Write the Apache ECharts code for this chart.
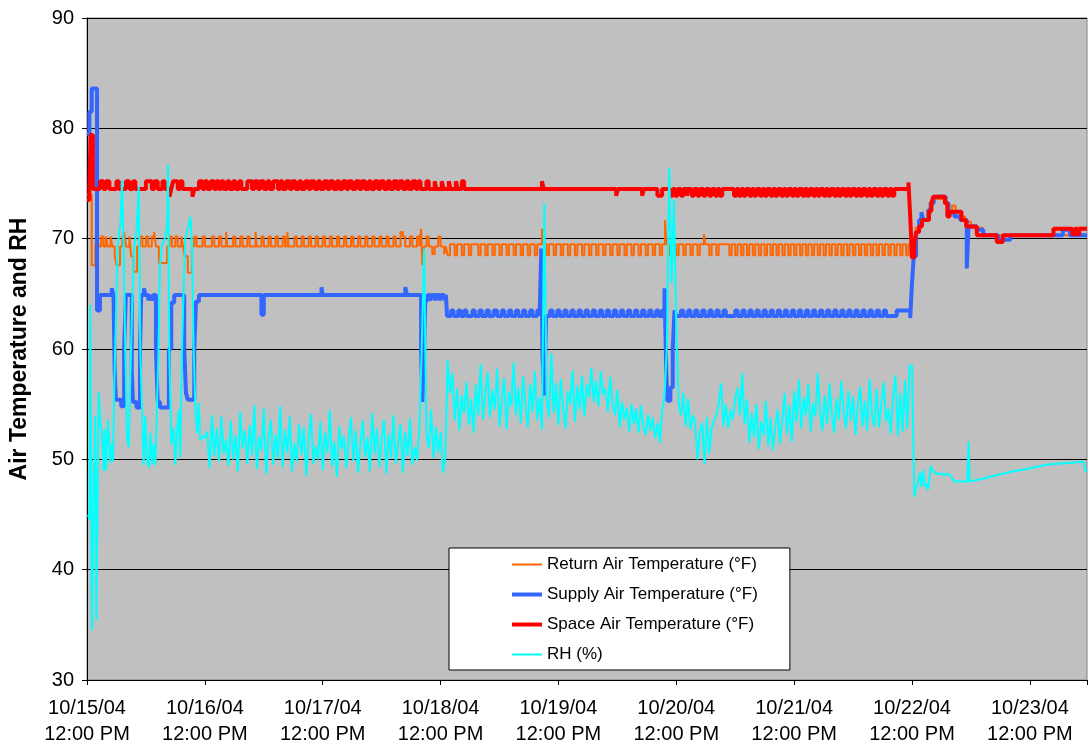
<!DOCTYPE html>
<html>
<head>
<meta charset="utf-8">
<script src="https://cdn.jsdelivr.net/npm/echarts@6/dist/echarts.min.js"></script>
<style>
html,body{margin:0;padding:0;background:#fff;}
#chart{width:1089px;height:753px;}
</style>
</head>
<body>
<div id="chart"></div>
<script>
// x values are days since 10/15/04 12:00 PM
const xTickLabels = ['10/15/04\n12:00 PM','10/16/04\n12:00 PM','10/17/04\n12:00 PM','10/18/04\n12:00 PM','10/19/04\n12:00 PM','10/20/04\n12:00 PM','10/21/04\n12:00 PM','10/22/04\n12:00 PM','10/23/04\n12:00 PM'];
const seriesNames = ['Return Air Temperature (°F)','Supply Air Temperature (°F)','Space Air Temperature (°F)','RH (%)'];

// Return air temperature: [day, °F] change points
const returnAir = [[0,74.0],[0.04,67.6],[0.07,69.3],[0.085,70.6],[0.1,69.3],[0.12,70.2],[0.14,69.3],[0.16,70.2],[0.175,69.3],[0.2,70.2],[0.215,69.3],[0.235,68.4],[0.25,67.6],[0.28,69.3],[0.3,70.2],[0.315,70.6],[0.33,69.3],[0.36,70.2],[0.375,68.4],[0.395,67.0],[0.425,69.3],[0.45,70.2],[0.47,69.3],[0.5,70.2],[0.52,69.3],[0.55,70.2],[0.57,70.6],[0.585,69.3],[0.61,67.8],[0.68,69.3],[0.7,70.2],[0.72,69.3],[0.75,70.2],[0.77,69.3],[0.8,70.2],[0.815,69.3],[0.83,68.4],[0.855,66.9],[0.89,69.3],[0.91,70.2],[0.93,69.3],
[0.98,70.2],[1.0,69.3],[1.06,70.2],[1.08,69.3],[1.12,70.2],[1.14,69.3],[1.18,70.6],[1.19,69.3],[1.24,70.2],[1.26,69.3],[1.3,70.2],[1.32,69.3],[1.36,70.2],[1.38,69.3],[1.43,70.6],[1.44,69.3],[1.48,70.2],[1.5,69.3],[1.54,70.2],[1.56,69.3],[1.6,70.2],[1.62,69.3],[1.66,70.2],[1.68,69.3],[1.7,70.6],[1.71,69.3],[1.76,70.2],[1.78,69.3],[1.82,70.2],[1.84,69.3],[1.88,70.2],[1.9,69.3],[1.94,70.2],[1.96,69.3],[2.0,70.2],[2.02,69.3],[2.06,70.2],[2.08,69.3],[2.12,70.2],[2.14,69.3],[2.18,70.2],[2.2,69.3],[2.24,70.2],[2.26,69.3],[2.3,70.2],[2.32,69.3],[2.36,70.2],[2.38,69.3],[2.42,70.2],[2.44,69.3],[2.48,70.2],[2.5,69.3],[2.54,70.2],[2.56,69.3],[2.6,70.2],[2.62,69.3],[2.66,70.6],[2.68,70.2],[2.7,69.3],[2.74,70.2],[2.76,69.3],[2.8,70.2],[2.82,69.3],[2.835,70.9],[2.845,67.6],[2.86,69.3],[2.88,70.2],[2.9,69.3],[2.93,68.6],[2.95,69.3],[2.98,70.2],[3.0,69.3],[3.03,68.6],[3.045,69.3],
[3.06,68.5],[3.08,69.5],[3.12,68.5],[3.14,69.5],[3.18,68.5],[3.2,69.5],[3.24,68.5],[3.26,69.5],[3.32,68.5],[3.34,69.5],[3.38,68.5],[3.4,69.5],[3.44,68.5],[3.46,69.5],[3.5,68.5],[3.52,69.5],[3.56,68.5],[3.58,69.5],[3.62,68.5],[3.64,69.5],[3.68,68.5],[3.7,69.5],[3.74,68.5],[3.76,69.5],[3.8,68.5],[3.82,69.5],[3.86,70.9],[3.87,69.5],[3.9,68.5],[3.92,69.5],[3.96,68.5],[3.98,69.5],[4.02,68.5],[4.04,69.5],[4.08,68.5],[4.1,69.5],[4.14,68.5],[4.16,69.5],[4.2,68.5],[4.22,69.5],[4.26,68.5],[4.28,69.5],[4.32,68.5],[4.34,69.5],[4.38,68.5],[4.4,69.5],[4.44,68.5],[4.46,69.5],[4.5,68.5],[4.52,69.5],[4.56,68.5],[4.58,69.5],[4.62,68.5],[4.64,69.5],[4.68,68.5],[4.7,69.5],[4.74,68.5],[4.76,69.5],[4.8,68.5],[4.82,69.5],[4.86,68.5],[4.88,69.5],[4.905,71.7],[4.915,69.5],[4.94,68.5],[4.96,69.5],[5.0,68.5],[5.02,69.5],[5.06,68.5],[5.08,69.5],[5.12,68.5],[5.14,69.5],[5.18,68.5],[5.2,69.5],[5.235,70.4],[5.245,69.5],[5.28,68.5],[5.3,69.5],[5.34,68.5],[5.36,69.5],[5.45,68.5],[5.47,69.5],[5.5,68.5],[5.52,69.5],[5.55,68.5],[5.57,69.5],[5.6,68.5],[5.62,69.5],[5.65,68.5],[5.67,69.5],[5.7,68.5],[5.72,69.5],[5.75,68.5],[5.77,69.5],[5.8,68.5],[5.82,69.5],[5.85,68.5],[5.87,69.5],[5.9,68.5],[5.92,69.5],[5.95,68.5],[5.97,69.5],[6.0,68.5],[6.02,69.5],[6.05,68.5],[6.07,69.5],[6.1,68.5],[6.12,69.5],[6.15,68.5],[6.17,69.5],[6.2,68.5],[6.22,69.5],[6.25,68.5],[6.27,69.5],[6.3,68.5],[6.32,69.5],[6.35,68.5],[6.37,69.5],[6.4,68.5],[6.42,69.5],[6.45,68.5],[6.47,69.5],[6.5,68.5],[6.52,69.5],[6.55,68.5],[6.57,69.5],[6.6,68.5],[6.62,69.5],[6.65,68.5],[6.67,69.5],[6.7,68.5],[6.72,69.5],[6.75,68.5],[6.77,69.5],[6.8,68.5],[6.82,69.5],[6.85,68.5],[6.87,69.5],[6.9,68.5],[6.92,69.5],[6.95,68.5],[6.97,69.5],
[6.99,68.3],[7.01,70.0],[7.03,71.0],[7.06,71.5],[7.085,71.7],[7.13,72.6],[7.15,73.3],[7.17,73.6],[7.27,73.2],[7.3,72.4],[7.34,73.0],[7.37,72.4],[7.41,72.0],[7.45,71.5],[7.5,71.0],[7.6,70.3],[8.4,71.0],[8.485,71.0]];

// Supply air temperature: [day, °F] change points
const supplyAir = [[0,79.5],[0.02,81.5],[0.04,83.6],[0.085,63.5],[0.11,64.9],[0.21,65.5],[0.225,64.9],[0.235,58.0],[0.245,55.4],[0.29,54.8],[0.315,60.0],[0.33,64.9],[0.38,58.0],[0.39,55.2],[0.42,54.7],[0.45,60.0],[0.46,64.9],[0.483,65.5],[0.495,64.9],[0.52,64.4],[0.535,64.9],[0.55,64.4],[0.565,64.9],[0.585,60.0],[0.6,55.2],[0.62,54.7],[0.695,60.0],[0.715,64.2],[0.74,64.9],[0.825,60.0],[0.84,56.0],[0.855,55.4],[0.91,60.0],[0.925,64.3],[0.95,64.9],[1.48,63.1],[1.5,64.9],[1.99,65.6],[2.0,64.9],[2.7,65.6],[2.715,64.9],[2.835,60.0],[2.845,55.2],[2.86,60.0],[2.87,64.4],[2.89,64.9],[2.91,64.4],[2.925,64.9],[2.95,64.4],[2.965,64.9],[2.99,64.4],[3.005,64.9],[3.03,64.4],[3.045,64.9],
[3.055,63.0],[3.09,63.5],[3.11,63.0],[3.15,63.5],[3.17,63.0],[3.2,63.5],[3.22,63.0],[3.27,63.5],[3.29,63.0],[3.33,63.5],[3.35,63.0],[3.39,63.5],[3.41,63.0],[3.45,63.5],[3.48,63.0],[3.52,63.5],[3.54,63.0],[3.58,63.5],[3.6,63.0],[3.64,63.5],[3.66,63.0],[3.7,63.5],[3.72,63.0],[3.76,63.5],[3.78,63.0],[3.82,63.5],[3.84,63.0],
[3.855,69.1],[3.865,59.3],[3.88,55.8],[3.895,63.0],
[3.93,63.5],[3.95,63.0],[3.99,63.5],[4.01,63.0],[4.05,63.5],[4.07,63.0],[4.11,63.5],[4.13,63.0],[4.17,63.5],[4.19,63.0],[4.23,63.5],[4.25,63.0],[4.29,63.5],[4.31,63.0],[4.35,63.5],[4.37,63.0],[4.41,63.5],[4.43,63.0],[4.47,63.5],[4.49,63.0],[4.53,63.5],[4.55,63.0],[4.59,63.5],[4.61,63.0],[4.65,63.5],[4.67,63.0],[4.71,63.5],[4.73,63.0],[4.77,63.5],[4.79,63.0],[4.83,63.5],[4.85,63.0],[4.88,63.5],
[4.9,65.5],[4.915,58.0],[4.925,55.3],[4.95,56.5],[4.97,60.0],[4.985,63.5],[5.0,63.0],
[5.04,63.5],[5.06,63.0],[5.1,63.5],[5.12,63.0],[5.16,63.5],[5.18,63.0],[5.22,63.5],[5.24,63.0],[5.28,63.5],[5.3,63.0],[5.34,63.5],[5.36,63.0],[5.4,63.5],[5.42,63.0],[5.5,63.5],[5.52,63.0],[5.56,63.5],[5.58,63.0],[5.62,63.5],[5.64,63.0],[5.68,63.5],[5.7,63.0],[5.74,63.5],[5.76,63.0],[5.8,63.5],[5.82,63.0],[5.86,63.5],[5.88,63.0],[5.92,63.5],[5.94,63.0],[5.98,63.5],[6.0,63.0],[6.04,63.5],[6.06,63.0],[6.1,63.5],[6.12,63.0],[6.16,63.5],[6.18,63.0],[6.22,63.5],[6.24,63.0],[6.28,63.5],[6.3,63.0],[6.34,63.5],[6.36,63.0],[6.4,63.5],[6.42,63.0],[6.46,63.5],[6.48,63.0],[6.52,63.5],[6.54,63.0],[6.58,63.5],[6.6,63.0],[6.64,63.5],[6.66,63.0],[6.7,63.5],[6.72,63.0],[6.76,63.5],[6.78,63.0],[6.87,63.5],[6.985,62.8],
[7.0,66.0],[7.015,68.4],[7.035,70.6],[7.06,71.7],[7.08,72.4],[7.095,71.7],[7.14,72.6],[7.16,73.2],[7.185,73.8],[7.285,73.2],[7.31,72.4],[7.36,72.0],[7.41,71.7],[7.465,67.3],[7.48,71.1],[7.55,70.8],[7.605,70.3],[7.73,69.9],[7.835,70.3],[8.28,70.8],[8.34,70.3],[8.485,70.3]];

// Space air temperature: [day, °F] change points
const spaceAir = [[0,73.5],[0.02,74.5],[0.03,79.4],[0.05,74.5],
[0.11,75.2],[0.14,74.5],[0.16,75.2],[0.19,74.5],[0.25,75.2],[0.27,74.5],[0.33,75.2],[0.36,74.5],[0.39,75.2],[0.41,74.5],[0.5,75.2],[0.55,74.5],[0.57,75.2],[0.6,74.5],[0.64,75.2],[0.66,74.5],[0.7,73.8],[0.715,74.5],[0.73,75.2],[0.77,74.5],[0.79,75.2],[0.81,74.5],[0.895,73.8],[0.91,74.5],[0.95,75.2],[0.98,74.5],[1.0,75.2],[1.02,74.5],[1.05,75.2],[1.08,74.5],[1.1,75.2],[1.12,74.5],[1.14,75.2],[1.16,74.5],[1.19,75.2],[1.21,74.5],[1.24,75.2],[1.26,74.5],[1.29,75.2],[1.31,74.5],[1.36,75.2],[1.4,74.5],
[1.42,75.2],[1.45,74.5],[1.47,75.2],[1.5,74.5],[1.53,75.2],[1.55,74.5],[1.58,75.2],[1.62,74.5],[1.64,75.2],[1.66,74.5],[1.69,75.2],[1.72,74.5],[1.74,75.2],[1.77,74.5],[1.8,75.2],[1.82,74.5],[1.85,75.2],[1.88,74.5],[1.9,75.2],[1.93,74.5],[1.96,75.2],[1.98,74.5],[2.01,75.2],[2.04,74.5],[2.06,75.2],[2.09,74.5],[2.12,75.2],[2.14,74.5],[2.17,75.2],[2.2,74.5],[2.22,75.2],[2.25,74.5],[2.28,75.2],[2.31,74.5],[2.33,75.2],[2.36,74.5],[2.39,75.2],[2.41,74.5],[2.44,75.2],[2.47,74.5],[2.49,75.2],[2.52,74.5],[2.55,75.2],[2.57,74.5],[2.6,75.2],[2.63,74.5],[2.65,75.2],[2.68,74.5],[2.71,75.2],[2.73,74.5],[2.76,75.2],[2.79,74.5],[2.81,75.2],[2.83,74.5],
[2.88,75.2],[2.9,74.5],[2.95,75.2],[2.965,74.5],[3.01,75.2],[3.025,74.5],[3.07,75.2],[3.085,74.5],[3.13,75.2],[3.145,74.5],[3.18,75.2],[3.2,74.5],
[3.86,75.2],[3.875,74.5],[4.49,73.9],[4.505,74.5],[4.71,73.9],[4.725,74.5],[4.84,73.9],[4.88,74.5],
[4.95,73.9],[4.97,74.5],[4.99,73.9],[5.01,74.5],[5.04,73.9],[5.06,74.5],[5.09,73.9],[5.1,74.5],[5.13,73.9],[5.15,74.5],[5.18,73.9],[5.2,74.5],[5.23,73.9],[5.25,74.5],[5.28,73.9],[5.3,74.5],[5.33,73.9],[5.35,74.5],[5.37,73.9],[5.39,74.5],
[5.49,73.9],[5.51,74.5],[5.53,73.9],[5.55,74.5],[5.57,73.9],[5.59,74.5],[5.62,73.9],[5.64,74.5],[5.66,73.9],[5.68,74.5],[5.71,73.9],[5.73,74.5],[5.75,73.9],[5.77,74.5],[5.8,73.9],[5.82,74.5],[5.84,73.9],[5.86,74.5],[5.89,73.9],[5.91,74.5],[5.93,73.9],[5.95,74.5],[5.98,73.9],[6.0,74.5],[6.02,73.9],[6.04,74.5],[6.07,73.9],[6.09,74.5],[6.11,73.9],[6.13,74.5],[6.16,73.9],[6.18,74.5],[6.2,73.9],[6.22,74.5],[6.25,73.9],[6.27,74.5],[6.29,73.9],[6.31,74.5],[6.34,73.9],[6.36,74.5],[6.38,73.9],[6.4,74.5],[6.43,73.9],[6.45,74.5],[6.47,73.9],[6.49,74.5],[6.52,73.9],[6.54,74.5],[6.56,73.9],[6.58,74.5],[6.61,73.9],[6.63,74.5],[6.65,73.9],[6.67,74.5],[6.7,73.9],[6.72,74.5],[6.74,73.9],[6.76,74.5],[6.79,73.9],[6.81,74.5],[6.83,73.9],[6.85,74.5],
[6.97,75.1],[6.985,72.0],[6.993,70.0],[7.0,68.3],[7.02,69.5],[7.035,70.6],[7.06,71.1],[7.085,71.7],[7.145,72.5],[7.165,73.2],[7.18,73.8],[7.28,73.2],[7.3,72.0],[7.32,72.45],[7.42,71.7],[7.46,71.1],[7.55,70.3],[7.72,69.7],[7.77,70.3],[8.2,70.9],[8.36,70.4],[8.38,70.9],[8.4,70.4],[8.42,70.9],[8.485,70.9]];

// RH (%) first day: [day, %]
const rhEarly = [[0.0085,45.0],[0.021,44.5],[0.028,64.0],[0.042,34.5],[0.057,46.6],[0.07,53.9],[0.079,35.4],[0.099,56.1],[0.115,53.2],[0.127,52.4],[0.142,49.0],[0.15,52.7],[0.161,49.0],[0.178,53.6],[0.198,49.7],[0.212,51.4],[0.221,49.8],[0.232,56.9],[0.246,63.0],[0.259,69.0],[0.272,70.5],[0.283,71.2],[0.297,75.3],[0.311,69.0],[0.325,60.0],[0.339,52.0],[0.354,51.1],[0.367,57.0],[0.382,63.5],[0.399,69.0],[0.424,71.2],[0.439,74.7],[0.452,60.0],[0.467,54.5],[0.481,49.5],[0.495,53.9],[0.509,50.2],[0.524,49.2],[0.537,52.4],[0.552,49.5],[0.566,51.4],[0.58,49.5],[0.594,55.0],[0.607,60.0],[0.619,67.6],[0.636,69.4],[0.659,70.0],[0.679,71.0],[0.687,76.7],[0.698,60.0],[0.715,51.4],[0.736,52.9],[0.749,49.5],[0.764,52.4],[0.778,54.5],[0.792,50.2],[0.806,60.0],[0.821,65.9],[0.834,70.0],[0.857,71.0],[0.877,72.0],[0.891,69.3],[0.905,60.0],[0.919,54.8],[0.933,52.4],[0.948,55.1],[0.961,51.7],[0.976,52.0],[0.999,52.0]];
// RH (%) sampled every 0.02 day from day 1.02 to 6.98
const rhRegularStart = 1.02;
const rhRegularStep = 0.02;
const rhRegular = [52.5,49.2,54.0,50.3,52.8,49.8,53.9,50.5,51.8,49.4,
53.5,50.0,52.2,48.9,54.3,51.0,52.6,49.6,53.1,50.4,
54.9,49.1,52.0,50.8,54.6,48.7,51.9,53.6,49.5,52.3,
50.1,54.8,49.3,52.7,50.6,53.9,48.9,51.5,49.8,53.2,
50.4,52.9,48.5,51.8,54.1,49.6,51.2,50.0,53.4,49.0,
52.4,50.6,54.5,49.4,51.6,48.4,53.0,50.9,52.1,49.2,
51.7,53.8,49.8,52.6,48.8,51.3,53.5,50.2,52.0,48.9,
54.2,50.5,52.8,49.3,51.9,53.6,48.7,52.3,50.1,54.0,
49.6,51.4,53.2,48.8,52.5,50.3,53.7,49.5,51.1,49.9,52.8,
60.0,69.1,52.4,51.0,54.5,50.1,53.0,50.6,52.5,48.8,50.2,
59.0,56.0,57.8,53.5,56.4,52.6,55.8,54.2,57.0,53.1,
55.5,52.4,56.8,54.0,58.6,53.6,55.9,57.9,53.8,56.3,
54.5,58.2,53.0,55.4,57.4,52.7,56.1,54.8,58.8,54.0,
56.5,53.3,57.5,55.0,52.9,56.8,54.3,58.0,53.5,55.6,
52.7,73.2,55.5,53.8,59.6,54.2,56.9,53.1,57.3,
54.6,52.8,56.2,55.0,58.1,53.4,56.7,54.5,57.6,53.9,
56.8,55.6,58.3,55.2,57.1,54.8,58.0,55.9,56.4,54.3,
57.5,55.1,54.0,56.3,52.9,55.2,53.6,54.7,52.5,55.0,
53.2,54.6,52.4,54.9,53.0,52.2,54.1,52.6,53.8,51.9,53.3,51.5,54.4,55.8,
60.0,76.4,66.0,73.5,62.0,
55.1,54.0,56.0,53.0,55.5,52.7,54.0,53.3,
50.0,52.5,53.3,49.6,53.8,50.5,52.8,
53.5,54.0,55.0,56.9,53.0,55.0,52.8,54.5,53.6,55.5,56.5,54.0,
57.8,53.2,55.4,51.5,54.2,52.0,55.0,50.9,53.4,52.2,55.3,51.2,53.8,50.8,52.9,54.5,51.4,53.6,56.0,52.3,
54.9,51.6,56.2,53.4,57.2,52.8,55.6,54.0,56.8,52.5,55.1,53.9,57.8,54.3,52.6,
55.8,53.2,56.9,54.0,52.4,55.5,53.6,57.1,54.4,52.8,56.2,53.5,55.7,52.2,54.9,56.6,53.0,55.3,52.6,57.3,
54.1,53.0,56.4,52.9,55.0,57.0,53.4,54.6,52.3,55.8,
57.6,52.1,56.0,52.5,57.2,52.8,58.5];
// RH (%) after the change on 10/22: [day, %]
const rhLate = [[7.0,58.5],[7.02,46.6],[7.035,47.5],[7.05,47.8],[7.07,48.8],[7.08,47.5],[7.095,49.0],[7.11,47.5],[7.12,47.8],[7.135,47.2],[7.15,47.2],[7.16,49.4],[7.18,48.9],[7.21,48.7],[7.26,48.7],[7.27,48.5],[7.29,48.7],[7.32,48.6],[7.36,48.0],[7.47,48.0],[7.48,51.6],[7.49,48.0],[7.58,48.2],[7.73,48.6],[7.85,48.9],[7.96,49.1],[8.05,49.3],[8.14,49.5],[8.23,49.6],[8.36,49.7],[8.455,49.8],[8.475,48.9],[8.485,49.0]];

const rhData = rhEarly
  .concat(rhRegular.map((v, i) => [rhRegularStart + i * rhRegularStep, v]))
  .concat(rhLate);

const seriesColors = ['#FF6600', '#3366FF', '#FF0000', '#00FFFF'];
const seriesWidths = [2, 4, 4, 2];

const FONT = '"Liberation Sans", Arial, sans-serif';
const chart = echarts.init(document.getElementById('chart'), null, {renderer: 'canvas'});
chart.setOption({
  animation: false,
  backgroundColor: '#ffffff',
  textStyle: {fontFamily: FONT, color: '#000'},
  grid: {left: 87, right: 2, top: 18, bottom: 73, containLabel: false, outerBoundsMode: 'none',
         show: true, backgroundColor: '#C0C0C0', borderColor: '#808080', borderWidth: 1},
  legend: {
    orient: 'vertical', left: 449, top: 548,
    backgroundColor: '#ffffff', borderColor: '#000', borderWidth: 1, borderRadius: 0,
    padding: [8, 32, 7, 61], itemGap: 13, itemWidth: 30, itemHeight: 14,
    itemStyle: {opacity: 0},
    textStyle: {fontFamily: FONT, fontSize: 17, color: '#000', lineHeight: 17},
    data: seriesNames.map((n, i) => ({name: n, lineStyle: {color: seriesColors[i], width: seriesWidths[i]}}))
  },
  xAxis: {
    type: 'value', min: 0, max: 8.485, interval: 1,
    axisLine: {show: true, lineStyle: {color: '#000', width: 1}},
    axisTick: {show: true, length: 5, lineStyle: {color: '#000'}},
    splitLine: {show: false},
    axisLabel: {
      fontFamily: FONT, fontSize: 20, color: '#000', lineHeight: 26, margin: 15,
      formatter: v => (Math.abs(v - Math.round(v)) < 1e-6 && xTickLabels[Math.round(v)]) ? xTickLabels[Math.round(v)] : ''
    }
  },
  yAxis: {
    type: 'value', min: 30, max: 90, interval: 10,
    name: 'Air Temperature and RH', nameLocation: 'middle', nameGap: 56,
    nameTextStyle: {fontFamily: FONT, fontSize: 23, fontWeight: 'bold', color: '#000'},
    axisLine: {show: true, lineStyle: {color: '#000', width: 1}},
    axisTick: {show: true, length: 5, lineStyle: {color: '#000'}},
    splitLine: {show: true, lineStyle: {color: '#000', width: 1}},
    axisLabel: {fontFamily: FONT, fontSize: 20, color: '#000', margin: 13}
  },
  series: seriesNames.map((n, i) => ({
    name: n, type: 'line', step: i < 3 ? 'end' : false,
    data: [returnAir, supplyAir, spaceAir, rhData][i],
    symbol: 'none', showSymbol: false, color: seriesColors[i],
    lineStyle: {color: seriesColors[i], width: seriesWidths[i]}
  }))
});
</script>
</body>
</html>
